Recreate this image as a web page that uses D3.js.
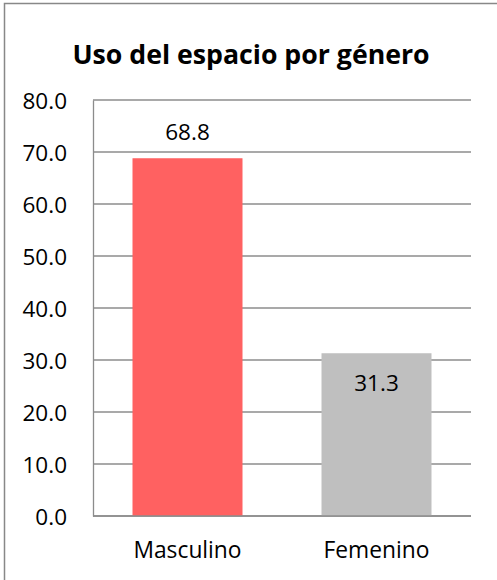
<!DOCTYPE html>
<html>
<head>
<meta charset="utf-8">
<script src="https://cdn.jsdelivr.net/npm/d3@7"></script>
<style>
  body { margin: 0; background: #fff; }
  text { font-family: "Open Sans", Lato, sans-serif; fill: #000; }
</style>
</head>
<body>
<script>
const WIDTH = 497;
const HEIGHT = 580;

// chart data
const categories = ["Masculino", "Femenino"];
const values = [68.8, 31.3];
const barColors = ["#ff6161", "#bfbfbf"];
const yTicks = [0, 10, 20, 30, 40, 50, 60, 70, 80];
const title = "Uso del espacio por género";

const plot = { left: 93, right: 471, top: 100, bottom: 516 };

const svg = d3.select("body").append("svg")
    .attr("width", WIDTH)
    .attr("height", HEIGHT);

// outer frame (only top and left edges fall inside the picture)
svg.append("rect")
    .attr("x", 4.5).attr("y", 3.5)
    .attr("width", 600).attr("height", 700)
    .attr("fill", "#fff")
    .attr("stroke", "#888")
    .attr("stroke-width", 1.5);

const x = d3.scaleBand()
    .domain(categories)
    .range([plot.left, plot.right])
    .paddingInner(0.418)
    .paddingOuter(0.209);

const y = d3.scaleLinear()
    .domain([0, 80])
    .range([plot.bottom, plot.top]);

// gridlines
svg.append("g")
    .selectAll("line")
    .data(yTicks)
    .join("line")
    .attr("x1", plot.left).attr("x2", plot.right)
    .attr("y1", d => y(d)).attr("y2", d => y(d))
    .attr("stroke", "#8c8c8c")
    .attr("stroke-width", 1.3);

// y axis
const yAxis = svg.append("g")
    .attr("transform", "translate(" + plot.left + ",0)")
    .call(d3.axisLeft(y).tickValues(yTicks).tickFormat(d3.format(".1f")).tickSize(0).tickPadding(26));
yAxis.select(".domain").attr("stroke", "#8c8c8c").attr("stroke-width", 1.3);
yAxis.selectAll("text").style("font-size", "22.5px").attr("dy", "0.36em");

// bars
svg.append("g")
    .selectAll("rect")
    .data(values)
    .join("rect")
    .attr("x", (d, i) => x(categories[i]))
    .attr("y", d => y(d))
    .attr("width", x.bandwidth())
    .attr("height", d => y(0) - y(d))
    .attr("fill", (d, i) => barColors[i]);

// redraw baseline on top of bars
svg.append("line")
    .attr("x1", plot.left).attr("x2", plot.right)
    .attr("y1", y(0)).attr("y2", y(0))
    .attr("stroke", "#8c8c8c")
    .attr("stroke-width", 1.3);

// value labels: first above bar, second inside
svg.append("g")
    .selectAll("text")
    .data(values)
    .join("text")
    .attr("x", (d, i) => x(categories[i]) + x.bandwidth() / 2)
    .attr("y", (d, i) => i === 0 ? y(d) - 18 : y(d) + 38)
    .attr("text-anchor", "middle")
    .style("font-size", "22.5px")
    .text(d => d3.format(".1f")(d));

// category labels
svg.append("g")
    .selectAll("text")
    .data(categories)
    .join("text")
    .attr("x", d => x(d) + x.bandwidth() / 2)
    .attr("y", 558)
    .attr("text-anchor", "middle")
    .style("font-size", "22.8px")
    .text(d => d);

// title
svg.append("text")
    .attr("x", 251)
    .attr("y", 64)
    .attr("text-anchor", "middle")
    .style("font-size", "26.7px")
    .style("font-weight", "bold")
    .text(title);
</script>
</body>
</html>
